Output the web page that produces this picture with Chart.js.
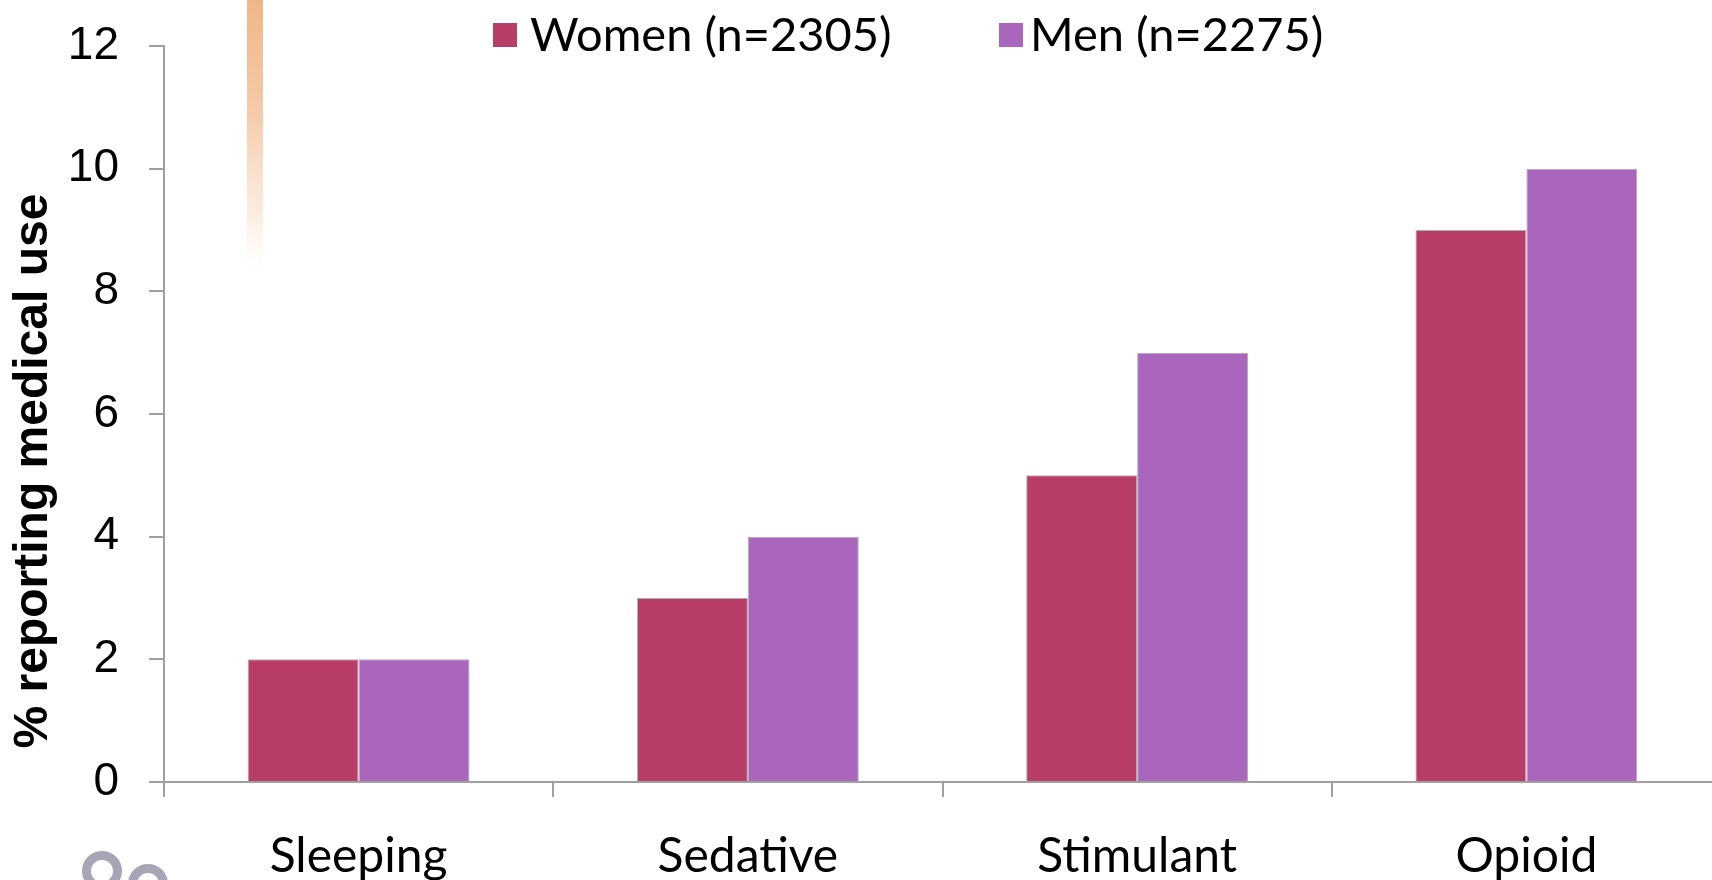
<!DOCTYPE html>
<html>
<head>
<meta charset="utf-8">
<script src="https://cdn.jsdelivr.net/npm/chart.js@4.4.1/dist/chart.umd.min.js"></script>
<style>
  html, body { margin: 0; padding: 0; background: #fff; overflow: hidden; }
  #wrap { width: 1712px; height: 880px; overflow: hidden; }
</style>
</head>
<body>
<div id="wrap"><canvas id="chart" width="1721" height="880"></canvas></div>
<script>
const categories = ["Sleeping", "Sedative", "Stimulant", "Opioid"];
const womenValues = [2, 3, 5, 9];
const menValues = [2, 4, 7, 10];
const seriesLabels = ["Women (n=2305)", "Men (n=2275)"];
const seriesColors = ["#B83D67", "#AA66BC"];
const yMin = 0;
const yMax = 12;
const yStep = 2;
const yTitle = "% reporting medical use";

// background bits from the slide + legend + rotated axis title
const slideExtras = {
  id: "slideExtras",
  beforeDraw(chart) {
    const ctx = chart.ctx;
    ctx.save();
    // orange fading stripe at top-left
    const grad = ctx.createLinearGradient(0, 0, 0, 285);
    grad.addColorStop(0, "rgba(240,182,135,1)");
    grad.addColorStop(0.4, "rgba(244,200,165,0.95)");
    grad.addColorStop(0.75, "rgba(250,228,210,0.7)");
    grad.addColorStop(1, "rgba(255,255,255,0)");
    ctx.fillStyle = grad;
    ctx.fillRect(247, 0, 16, 285);
    // grey rings of the logo, bottom-left
    ctx.strokeStyle = "#A9A5B6";
    ctx.lineWidth = 9;
    ctx.beginPath();
    ctx.arc(102, 871, 15.5, 0, Math.PI * 2);
    ctx.stroke();
    ctx.beginPath();
    ctx.arc(148, 884, 15.5, 0, Math.PI * 2);
    ctx.stroke();
    ctx.restore();
  },
  afterDraw(chart) {
    const ctx = chart.ctx;
    ctx.save();
    // legend
    const boxX = [493, 999];
    const textX = [530, 1030];
    ctx.font = "47px Lato";
    ctx.textBaseline = "middle";
    ctx.textAlign = "left";
    chart.data.datasets.forEach(function(ds, i) {
      ctx.fillStyle = ds.backgroundColor;
      ctx.fillRect(boxX[i], 23, 24, 24);
      ctx.fillStyle = "#000";
      ctx.fillText(ds.label, textX[i], 36);
    });
    // y title
    ctx.translate(34, 471);
    ctx.rotate(-Math.PI / 2);
    ctx.font = "bold 48px 'Liberation Sans'";
    ctx.textAlign = "center";
    ctx.fillText(yTitle, 0, 0);
    ctx.restore();
  }
};

new Chart(document.getElementById("chart"), {
  type: "bar",
  data: {
    labels: categories,
    datasets: [
      { label: seriesLabels[0], data: womenValues, backgroundColor: seriesColors[0],
        borderColor: "rgba(140,140,140,0.7)", borderWidth: 1, categoryPercentage: 0.57, barPercentage: 1 },
      { label: seriesLabels[1], data: menValues, backgroundColor: seriesColors[1],
        borderColor: "rgba(140,140,140,0.7)", borderWidth: 1, categoryPercentage: 0.57, barPercentage: 1 }
    ]
  },
  options: {
    responsive: false,
    animation: false,
    layout: { padding: { top: 46, right: 0, left: 0, bottom: 0 } },
    plugins: {
      legend: { display: false },
      tooltip: { enabled: false }
    },
    scales: {
      x: {
        grid: { drawOnChartArea: false, drawTicks: true, tickLength: 15, color: "#A0A0A0", lineWidth: 2, offset: true },
        border: { color: "#A0A0A0", width: 2 },
        ticks: { color: "#000", font: { family: "Lato", size: 48 }, padding: 31 },
        afterFit(scale) { scale.height = 98; }
      },
      y: {
        min: yMin,
        max: yMax,
        grid: { drawOnChartArea: false, drawTicks: true, tickLength: 15, color: "#A0A0A0", lineWidth: 2 },
        border: { color: "#A0A0A0", width: 2 },
        ticks: { stepSize: yStep, color: "#000", font: { family: "Liberation Sans", size: 46 }, padding: 30 },
        afterFit(scale) {
          scale.width = 164;
          scale.paddingTop = 20;
          scale.paddingBottom = 20;
        }
      }
    }
  },
  plugins: [slideExtras]
});
</script>
</body>
</html>
